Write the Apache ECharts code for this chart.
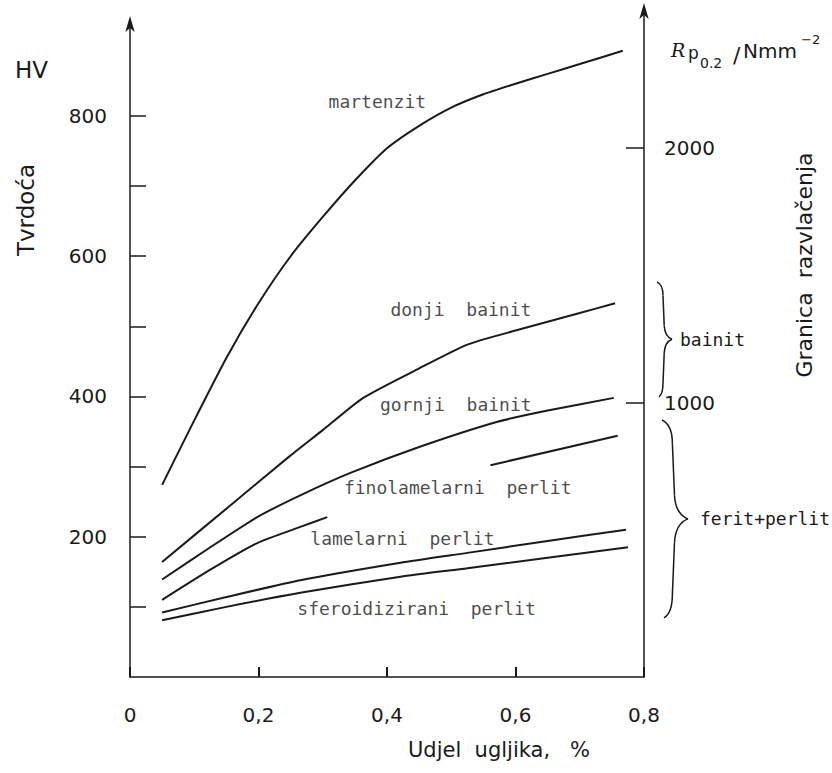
<!DOCTYPE html>
<html>
<head>
<meta charset="utf-8">
<script src="https://cdn.jsdelivr.net/npm/echarts@6/dist/echarts.min.js"></script>
<style>
html,body{margin:0;padding:0;background:#fff;}
#main{width:832px;height:773px;}
</style>
</head>
<body>
<div id="main"></div>
<script>
// ---- data (x = Udjel ugljika %, y = HV) ----
const xTickStep = 0.2;
const hvTickLabels = [200, 400, 600, 800];
const hvTickMarks = [100, 200, 300, 400, 500, 600, 700, 800];
const rpTickLabels = [1000, 2000];

const martenzit = [[0.05,274],[0.1,366],[0.15,455],[0.2,533],[0.25,600],[0.3,656],[0.35,708],[0.4,754],[0.45,786],[0.5,812],[0.55,831],[0.6,846],[0.65,860],[0.7,874],[0.767,893]];
const donjiBainit = [[0.05,164],[0.15,240],[0.25,316],[0.3,352],[0.363,398],[0.45,440],[0.525,474],[0.6,494],[0.7,519],[0.755,533]];
const gornjiBainit = [[0.05,139],[0.125,185],[0.198,228],[0.265,259],[0.343,291],[0.45,328],[0.572,364],[0.65,380],[0.753,398]];
const finolamelarniPerlit = [[0.05,110],[0.125,153],[0.198,191],[0.265,214],[0.307,228],[0.43,null],[0.561,302],[0.759,344]];
const lamelarniPerlit = [[0.05,92],[0.15,114],[0.265,138],[0.421,163],[0.525,177],[0.65,194],[0.772,210]];
const sferoidiziraniPerlit = [[0.05,81],[0.15,100],[0.265,120],[0.421,143],[0.525,155],[0.65,170],[0.775,185]];

// curve names and their label anchors (data coords)
const curveNames = ['martenzit','donji  bainit','gornji  bainit','finolamelarni  perlit','lamelarni  perlit','sferoidizirani  perlit'];
const labelX = [0.385, 0.515, 0.507, 0.51, 0.424, 0.446];
const labelHV = [820, 524, 389, 270, 197, 97];

// groups on the Rp axis (brace extents, N/mm2)
const groupNames = ['bainit', 'ferit+perlit'];
const groupTop = [1475, 933];
const groupBottom = [1024, 157];

const chart = echarts.init(document.getElementById('main'), null, {renderer: 'svg'});
const ink = '#1a1a1a';
const sans = 'DejaVu Sans';
const mono = 'DejaVu Sans Mono';

function lineSeries(name, data) {
  return {
    name: name, type: 'line', xAxisIndex: 0, yAxisIndex: 0,
    data: data, showSymbol: false, smooth: 0.2, connectNulls: false,
    lineStyle: {color: ink, width: 2}, silent: true
  };
}

const option = {
  backgroundColor: '#ffffff',
  animation: false,
  grid: [
    {left: 130, right: 188, top: 22, bottom: 96},
    {left: 130, right: 188, top: 9, bottom: 96}
  ],
  xAxis: [
    {
      type: 'value', gridIndex: 0, min: 0, max: 0.8, interval: xTickStep, position: 'bottom',
      axisLine: {show: true, onZero: false, lineStyle: {color: ink, width: 1.5}},
      axisTick: {show: true, inside: true, length: 10, lineStyle: {color: ink, width: 2}},
      axisLabel: {show: true, margin: 28, fontFamily: sans, fontSize: 20, color: ink,
        formatter: v => String(v).replace('.', ',')},
      splitLine: {show: false}
    },
    {type: 'value', gridIndex: 1, min: 0, max: 0.8, show: false}
  ],
  yAxis: [
    {
      type: 'value', gridIndex: 0, min: 0, max: 934, position: 'left',
      axisLine: {show: true, onZero: false, symbol: ['none', 'arrow'], symbolSize: [7, 16], symbolOffset: [0, 6], lineStyle: {color: ink, width: 1.5}},
      axisTick: {show: true, inside: true, length: 16, customValues: hvTickMarks, lineStyle: {color: ink, width: 1.5}},
      axisLabel: {customValues: hvTickLabels, margin: 23, fontFamily: sans, fontSize: 20, color: ink,
        formatter: v => String(v)},
      splitLine: {show: false}
    },
    {
      type: 'value', gridIndex: 1, min: -75, max: 2545, position: 'right',
      axisLine: {show: true, onZero: false, symbol: ['none', 'arrow'], symbolSize: [7, 16], symbolOffset: [0, 6], lineStyle: {color: ink, width: 1.5}},
      axisTick: {show: true, inside: true, length: 18, customValues: rpTickLabels, lineStyle: {color: ink, width: 1.5}},
      axisLabel: {customValues: rpTickLabels, margin: 20, fontFamily: sans, fontSize: 20, color: ink,
        formatter: v => String(v)},
      splitLine: {show: false}
    }
  ],
  series: [
    lineSeries(curveNames[0], martenzit),
    lineSeries(curveNames[1], donjiBainit),
    lineSeries(curveNames[2], gornjiBainit),
    lineSeries(curveNames[3], finolamelarniPerlit),
    lineSeries(curveNames[4], lamelarniPerlit),
    lineSeries(curveNames[5], sferoidiziraniPerlit),
    {
      type: 'scatter', xAxisIndex: 0, yAxisIndex: 0, symbolSize: 0, silent: true,
      data: curveNames.map((n, i) => ({name: n, value: [labelX[i], labelHV[i]]})),
      label: {show: true, position: 'inside', formatter: '{b}', fontFamily: mono, fontSize: 18, color: ink}
    }
  ],
  graphic: [
    {type: 'text', left: 15, top: 58, style: {text: 'HV', fontFamily: sans, fontSize: 23, fill: ink}},
    {type: 'text', x: 26, y: 210, rotation: Math.PI / 2,
      style: {text: 'Tvrdoća', fontFamily: sans, fontSize: 23, fill: ink, align: 'center', verticalAlign: 'middle'}},
    {type: 'text', x: 804, y: 265, rotation: Math.PI / 2,
      style: {text: 'Granica  razvlačenja', fontFamily: sans, fontSize: 22, fill: ink, align: 'center', verticalAlign: 'middle'}},
    {type: 'text', x: 499, y: 750,
      style: {text: 'Udjel  ugljika,   %', fontFamily: sans, fontSize: 21, fill: ink, align: 'center', verticalAlign: 'middle'}},
    {type: 'text', x: 671, y: 50, style: {text: 'R', fontFamily: 'DejaVu Serif', fontStyle: 'italic', fontSize: 19, fill: ink, align: 'left', verticalAlign: 'middle'}},
    {type: 'text', x: 688, y: 53, style: {text: 'p', fontFamily: sans, fontSize: 17, fill: ink, align: 'left', verticalAlign: 'middle'}},
    {type: 'text', x: 700, y: 63, style: {text: '0.2', fontFamily: sans, fontSize: 14, fill: ink, align: 'left', verticalAlign: 'middle'}},
    {type: 'text', x: 733, y: 55, style: {text: '/', fontFamily: sans, fontSize: 22, fill: ink, align: 'left', verticalAlign: 'middle'}},
    {type: 'text', x: 743, y: 51, style: {text: 'Nmm', fontFamily: sans, fontSize: 20, fill: ink, align: 'left', verticalAlign: 'middle'}},
    {type: 'text', x: 801, y: 39, style: {text: '−2', fontFamily: sans, fontSize: 13, fill: ink, align: 'left', verticalAlign: 'middle'}}
  ]
};
chart.setOption(option);

const extra = [];
const strokeStyle = {stroke: ink, lineWidth: 1.5, fill: null};

// braces for the groups on the Rp axis
const axisX = chart.convertToPixel({xAxisIndex: 1}, 0.8);
const braceOffset = [13, 18];
const braceWidth = [15, 26];
const textGap = [8, 12];
groupNames.forEach((g, i) => {
  const y0 = chart.convertToPixel({yAxisIndex: 1}, groupTop[i]);
  const y1 = chart.convertToPixel({yAxisIndex: 1}, groupBottom[i]);
  const ym = (y0 + y1) / 2;
  const x0 = axisX + braceOffset[i];
  const w = braceWidth[i];
  const h = (y1 - y0);
  const xm = x0 + w * 0.4;
  const q = h * 0.12;
  extra.push({type: 'bezierCurve', shape: {x1: x0, y1: y0, cpx1: xm, cpy1: y0 + q * 0.2, x2: xm, y2: y0 + q}, style: strokeStyle});
  extra.push({type: 'line', shape: {x1: xm, y1: y0 + q, x2: xm + w * 0.08, y2: ym - q}, style: strokeStyle});
  extra.push({type: 'bezierCurve', shape: {x1: xm + w * 0.08, y1: ym - q, cpx1: xm + w * 0.12, cpy1: ym - q * 0.2, x2: x0 + w, y2: ym}, style: strokeStyle});
  extra.push({type: 'bezierCurve', shape: {x1: x0 + w, y1: ym, cpx1: xm + w * 0.12, cpy1: ym + q * 0.2, x2: xm + w * 0.08, y2: ym + q}, style: strokeStyle});
  extra.push({type: 'line', shape: {x1: xm + w * 0.08, y1: ym + q, x2: xm, y2: y1 - q}, style: strokeStyle});
  extra.push({type: 'bezierCurve', shape: {x1: xm, y1: y1 - q, cpx1: xm, cpy1: y1 - q * 0.2, x2: x0 + 2, y2: y1}, style: strokeStyle});
  extra.push({type: 'text', x: x0 + w + textGap[i], y: ym,
    style: {text: g, fontFamily: mono, fontSize: 18, fill: ink, align: 'left', verticalAlign: 'middle'}});
});
chart.setOption({graphic: option.graphic.concat(extra)});
</script>
</body>
</html>
